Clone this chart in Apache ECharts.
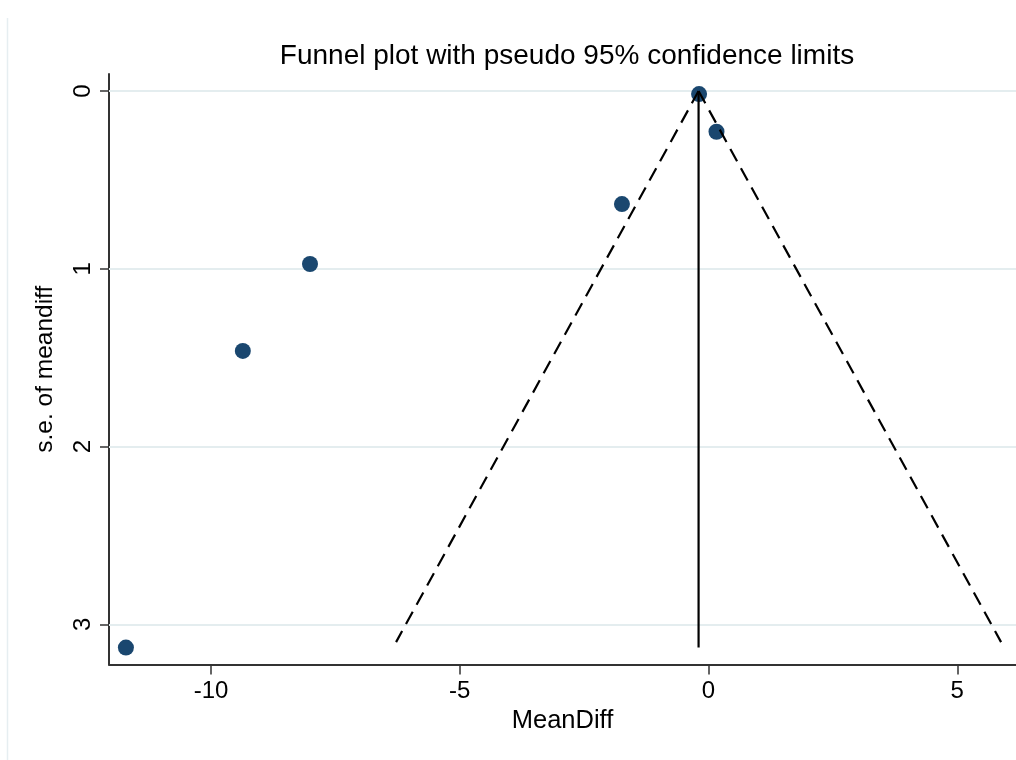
<!DOCTYPE html>
<html>
<head>
<meta charset="utf-8">
<style>
  html, body { margin: 0; padding: 0; background: #fff; }
  #chart { width: 1016px; height: 760px; }
</style>
<script src="https://cdn.jsdelivr.net/npm/echarts@6/dist/echarts.min.js"></script>
</head>
<body>
<div id="chart"></div>
<script>
// Study estimates: mean difference and its standard error
const meanDiff = [-0.19, 0.16, -1.74, -8.01, -9.36, -11.71];
const seMeanDiff = [0.017, 0.229, 0.636, 0.973, 1.462, 3.131];

// Pooled estimate (vertical reference line) and pseudo 95% limits
const pooledLine = [[-0.2, 0], [-0.2, 3.131]];
const lowerLimit = [[-0.2, 0], [-6.28, 3.1]];
const upperLimit = [[-0.2, 0], [5.88, 3.1]];

// Tick labels
const xTicks = [-10, -5, 0, 5];
const yTicks = [0, 1, 2, 3];

const FONT = '"Liberation Sans", Arial, Helvetica, sans-serif';
const INK = '#000000';
const GRID = '#e4edef';

const chart = echarts.init(document.getElementById('chart'), null, { renderer: 'canvas' });

const points = meanDiff.map((v, i) => [v, seMeanDiff[i]]);

chart.setOption({
  backgroundColor: '#ffffff',
  animation: false,
  title: {
    text: 'Funnel plot with pseudo 95% confidence limits',
    left: 562,
    top: 37,
    textAlign: 'center',
    textStyle: { fontFamily: FONT, fontSize: 28, fontWeight: 'normal', color: INK }
  },
  graphic: [{
    type: 'line',
    shape: { x1: 7.5, y1: 18, x2: 7.5, y2: 760 },
    style: { stroke: '#e6eef1', lineWidth: 1.5 },
    silent: true
  }],
  grid: { left: 109, right: 0, top: 74, bottom: 95.5, containLabel: false },
  xAxis: {
    type: 'value',
    min: -12.05,
    max: 6.18,
    name: 'MeanDiff',
    nameLocation: 'middle',
    nameGap: 41,
    nameTextStyle: { fontFamily: FONT, fontSize: 25.5, color: INK },
    axisLine: { show: true, onZero: false, lineStyle: { color: '#333', width: 2 } },
    axisTick: { show: true, customValues: xTicks, length: 10, lineStyle: { color: '#333', width: 1.5 } },
    axisLabel: { customValues: xTicks, fontFamily: FONT, fontSize: 24, color: INK, margin: 15 },
    splitLine: { show: false }
  },
  yAxis: {
    type: 'value',
    inverse: true,
    min: -0.096,
    max: 3.226,
    name: 's.e. of meandiff',
    nameLocation: 'middle',
    nameGap: 51,
    nameTextStyle: { fontFamily: FONT, fontSize: 24.5, color: INK },
    axisLine: { show: true, onZero: false, lineStyle: { color: '#333', width: 2 } },
    axisTick: { show: true, customValues: yTicks, length: 9, lineStyle: { color: '#333', width: 1.5 } },
    axisLabel: { customValues: yTicks, rotate: 90, fontFamily: FONT, fontSize: 24, color: INK, margin: 14 },
    splitLine: { show: false }
  },
  series: [
    {
      name: 'gridlines',
      type: 'line',
      data: [],
      silent: true,
      z: 1,
      markLine: {
        silent: true,
        z: 1,
        symbol: 'none',
        label: { show: false },
        lineStyle: { color: GRID, type: 'solid', width: 2 },
        data: yTicks.map(v => ({ yAxis: v }))
      }
    },
    {
      name: 'studies',
      type: 'scatter',
      data: points,
      symbol: 'circle',
      symbolSize: 16,
      itemStyle: { color: '#1a476f', opacity: 1 },
      z: 3
    },
    {
      name: 'lower limit',
      type: 'line',
      data: lowerLimit,
      symbol: 'none',
      lineStyle: { color: '#000', width: 2.2, type: [14, 8] },
      z: 4
    },
    {
      name: 'upper limit',
      type: 'line',
      data: upperLimit,
      symbol: 'none',
      lineStyle: { color: '#000', width: 2.2, type: [14, 8] },
      z: 4
    },
    {
      name: 'pooled',
      type: 'line',
      data: pooledLine,
      symbol: 'none',
      lineStyle: { color: '#000', width: 2.2 },
      z: 5
    }
  ]
});
</script>
</body>
</html>
